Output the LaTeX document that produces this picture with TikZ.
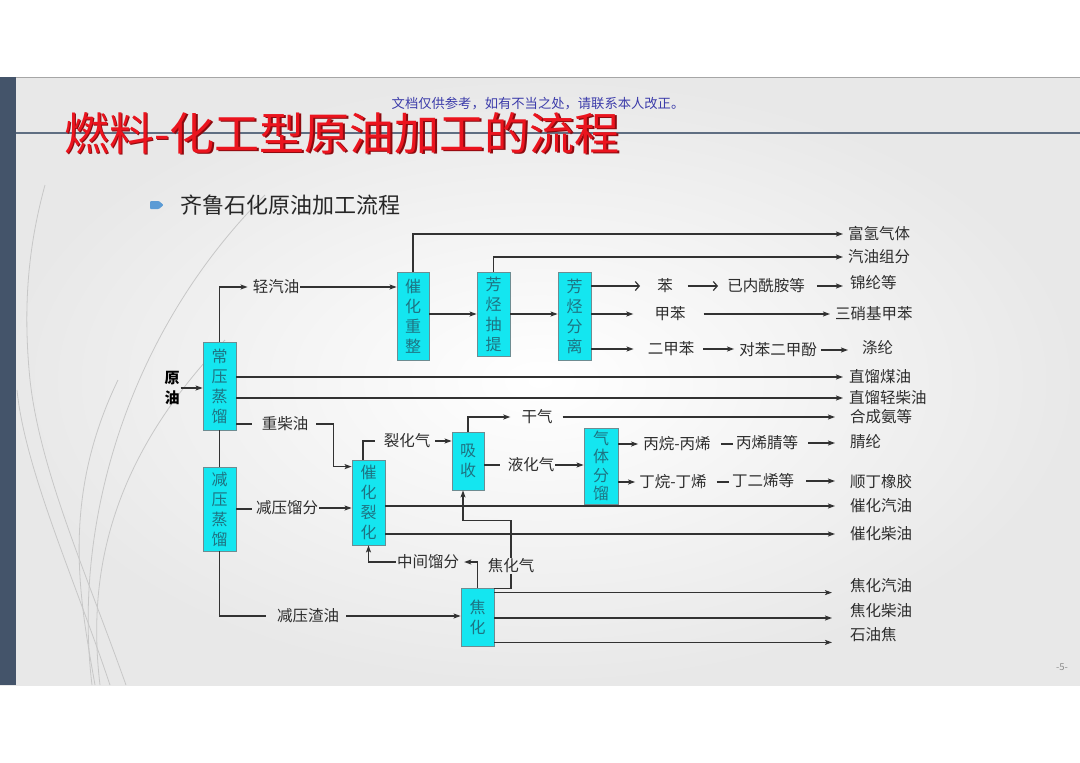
\documentclass[tikz,border=0pt]{standalone}
\usepackage{fontspec}
\setmainfont{Noto Sans CJK SC}
\usetikzlibrary{arrows.meta}
\definecolor{boxfill}{RGB}{20,230,240}
\definecolor{boxline}{RGB}{110,140,145}
\definecolor{boxtext}{RGB}{30,115,130}
\definecolor{linec}{RGB}{50,50,50}
\definecolor{labtext}{RGB}{45,45,45}
\definecolor{titlered}{RGB}{235,20,30}
\definecolor{titledark}{RGB}{140,10,15}
\definecolor{wmblue}{RGB}{60,60,170}
\definecolor{barblue}{RGB}{68,84,106}
\definecolor{rulecol}{RGB}{95,110,130}
\definecolor{bulletblue}{RGB}{91,155,213}
\newcommand{\labfont}{\fontsize{15.5}{18}\selectfont}
\newcommand{\boxfont}{\fontsize{16}{20}\selectfont}
\tikzset{
  box/.style={draw=boxline, fill=boxfill, line width=0.8pt, minimum width=33pt, inner sep=0pt, align=center, font=\boxfont, text=boxtext},
  lab/.style={font=\labfont, text=labtext, inner sep=1pt},
  outl/.style={lab, anchor=west},
  ln/.style={draw=linec, line width=1.2pt},
  arr/.style={ln, -{Stealth[length=7pt,width=5pt,inset=1.5pt]}},
  oarr/.style={ln, -{Straight Barb[length=4pt,width=9pt]}},
  deco/.style={draw=black!22, line width=0.8pt},
}
\begin{document}
\begin{tikzpicture}[x=1pt,y=-1pt]
\useasboundingbox (0,0) rectangle (1080,763);
\fill[white] (0,0) rectangle (1080,763);
% slide background
\shade[inner color=white, outer color=black!9] (0,77) rectangle (1080,685);
\draw[black!35, line width=1pt] (0,77) -- (1080,77);
\fill[barblue] (0,77) rectangle (16,685);
% decorative curves
\draw[deco] (92,685) .. controls (72,520) and (130,330) .. (265,195);
\draw[deco] (100,685) .. controls (85,560) and (120,450) .. (225,340);
\draw[deco] (110,685) .. controls (75,580) and (25,470) .. (17,390);
\draw[deco] (126,685) .. controls (85,570) and (40,470) .. (30,380);
\draw[deco] (30,380) .. controls (22,300) and (30,240) .. (45,185);
\draw[deco] (95,685) .. controls (80,600) and (60,500) .. (118,380);
% title rule and title
\draw[rulecol, line width=2pt] (16,133) -- (1080,133);
\node[font=\fontsize{45}{50}\selectfont, text=titledark, inner sep=0pt] (titlesh) at (343.2,134.2) {燃料-化工型原油加工的流程};
\node[font=\fontsize{45}{50}\selectfont, text=titlered, inner sep=0pt] (title) at (342,133) {燃料-化工型原油加工的流程};
\node[font=\fontsize{13.3}{15}\selectfont, text=wmblue, inner sep=0pt] (wm) at (538,104) {文档仅供参考，如有不当之处，请联系本人改正。};
\fill[bulletblue, rounded corners=1pt] (150,201) -- (159,201) -- (163.5,205) -- (159,209) -- (150,209) -- cycle;
\node[font=\fontsize{22}{26}\selectfont, text=black!85, inner sep=0pt] (sub) at (290,205) {齐鲁石化原油加工流程};
\node[font=\fontsize{9.5}{11}\selectfont, text=black!45, inner sep=0pt] (pn) at (1062,667) {-5-};

% boxes
\node[box, minimum height=88pt] (cy) at (219.5,386) {常\\压\\蒸\\馏};
\node[box, minimum height=84pt] (jy) at (219.5,509) {减\\压\\蒸\\馏};
\node[box, minimum width=32pt, minimum height=88pt] (cz) at (413,316) {催\\化\\重\\整};
\node[box, minimum height=84pt] (fc) at (493.5,314) {芳\\烃\\抽\\提};
\node[box, minimum height=88pt] (ff) at (574.5,316) {芳\\烃\\分\\离};
\node[box, minimum height=85pt] (cl) at (368.5,502.5) {催\\化\\裂\\化};
\node[box, minimum width=32pt, minimum height=58pt] (xs) at (468,461) {吸\\收};
\node[box, minimum width=34pt, minimum height=76pt, font=\fontsize{16}{18.5}\selectfont] (qt) at (601,466) {气\\体\\分\\馏};
\node[box, minimum height=58pt] (jh) at (477.5,617) {焦\\化};

% labels
\node[lab, align=center, text=black, font=\fontsize{15}{20}\selectfont\bfseries] (yy) at (172,388) {原\\油};
\node[lab] (qqy) at (276,287) {轻汽油};
\node[lab] (zcy) at (285,424) {重柴油};
\node[lab] (jyf) at (287,508) {减压馏分};
\node[lab] (jyzy) at (308,616) {减压渣油};
\node[lab] (lhq) at (407,441) {裂化气};
\node[lab] (gq) at (537,417) {干气};
\node[lab] (yhq) at (531,465) {液化气};
\node[lab] (bw) at (677,444) {丙烷-丙烯};
\node[lab] (dw) at (673,482) {丁烷-丁烯};
\node[lab] (bxj) at (767,443) {丙烯腈等};
\node[lab] (ded) at (763,481) {丁二烯等};
\node[lab] (zjf) at (428,562) {中间馏分};
\node[lab] (jhq) at (511,566) {焦化气};
\node[lab] (ben) at (665,286) {苯};
\node[lab] (jnx) at (766,286) {已内酰胺等};
\node[lab] (jb) at (670,314) {甲苯};
\node[lab] (ejb) at (671,349) {二甲苯};
\node[lab] (dbe) at (778,350) {对苯二甲酚};

% outputs
\node[outl] (fq) at (847,234) {富氢气体};
\node[outl] (qyzf) at (847,257) {汽油组分};
\node[outl] (jl) at (849,283) {锦纶等};
\node[outl] (sx) at (834,314) {三硝基甲苯};
\node[outl] (dl) at (861,348) {涤纶};
\node[outl] (zm) at (848,377) {直馏煤油};
\node[outl] (zq) at (848,398) {直馏轻柴油};
\node[outl] (hc) at (849,417) {合成氨等};
\node[outl] (jl2) at (849,442) {腈纶};
\node[outl] (sd) at (849,482) {顺丁橡胶};
\node[outl] (cq) at (849,506) {催化汽油};
\node[outl] (cc) at (849,534) {催化柴油};
\node[outl] (jq) at (849,586) {焦化汽油};
\node[outl] (jc) at (849,611) {焦化柴油};
\node[outl] (syj) at (849,635) {石油焦};

% connectors
\draw[arr] (yy.east) -- (yy.east -| cy.west);
\draw[arr, shorten >=4pt] (cy.north) |- (qqy.west);
\draw[arr] (qqy.east) -- (qqy.east -| cz.west);
\draw[arr, shorten >=4pt] (cz.north) |- (fq.west);
\draw[arr, shorten >=4pt] (fc.north) |- (qyzf.west);
\draw[arr] (cz.east |- fc.west) -- (fc.west);
\draw[arr] (fc.east) -- (fc.east -| ff.west);
\draw[oarr, shorten >=16pt] (ff.east |- ben.west) -- (ben.west);
\draw[oarr, shorten <=14pt, shorten >=8pt] (ben.east) -- (jnx.west);
\draw[arr, shorten <=11pt, shorten >=6pt] (jnx.east) -- (jnx.east -| jl.west);
\draw[arr, shorten >=20pt] (ff.east |- jb.west) -- (jb.west);
\draw[arr, shorten <=17pt, shorten >=4pt] (jb.east) -- (jb.east -| sx.west);
\draw[arr, shorten >=13pt] (ff.east |- ejb.west) -- (ejb.west);
\draw[arr, shorten <=8pt, shorten >=4pt] (ejb.east) -- (ejb.east -| dbe.west);
\draw[arr, shorten <=3pt, shorten >=13pt] (dbe.east) -- (dbe.east -| dl.west);
\draw[arr, shorten >=5pt] (cy.east |- zm.west) -- (zm.west);
\draw[arr, shorten >=5pt] (cy.east |- zq.west) -- (zq.west);
\draw[ln, shorten >=9pt] (cy.east |- zcy.west) -- (zcy.west);
\draw[arr, shorten <=7pt] (zcy.east) -- ++(24pt,0) |- ([yshift=-7pt]cl.north west);
\draw[ln] (cy.south) -- (jy.north);
\draw[ln, shorten >=3pt] (jy.east) -- (jy.east -| jyf.west);
\draw[arr] (jyf.east) -- (jyf.east -| cl.west);
\draw[ln, shorten >=10pt] (jy.south) |- (jyzy.west);
\draw[arr, shorten <=6pt] (jyzy.east) -- (jyzy.east -| jh.west);
\draw[ln, shorten >=8pt] ([xshift=-5.5pt]cl.north) |- (lhq.west);
\draw[arr, shorten <=4pt] (lhq.east) -- (lhq.east -| xs.west);
\draw[arr, shorten >=10pt] (xs.north) |- (gq.west);
\draw[arr, shorten <=9pt, shorten >=14pt] (gq.east) -- (gq.east -| hc.west);
\draw[ln, shorten >=7pt] (xs.east |- yhq.west) -- (yhq.west);
\draw[arr] (yhq.east) -- (yhq.east -| qt.west);
\draw[arr, shorten >=4pt] (qt.east |- bw.west) -- (bw.west);
\draw[ln, shorten <=9pt, shorten >=2pt] (bw.east) -- (bw.east -| bxj.west);
\draw[arr, shorten <=9pt, shorten >=14pt] (bxj.east) -- (bxj.east -| jl2.west);
\draw[arr, shorten >=3pt] (qt.east |- dw.west) -- (dw.west);
\draw[ln, shorten <=9pt, shorten >=2pt] (dw.east) -- (dw.east -| ded.west);
\draw[arr, shorten <=11pt, shorten >=14pt] (ded.east) -- (ded.east -| sd.west);
\draw[arr, shorten >=14pt] (cl.east |- cq.west) -- (cq.west);
\draw[arr, shorten >=14pt] (cl.east |- cc.west) -- (cc.west);
\draw[arr, shorten >=4pt] (jh.north) |- (zjf.east);
\draw[arr] (zjf.west) -| (cl.south);
\draw[ln] ([yshift=-1pt]jh.north east) -| (jhq.south);
\draw[arr] (jhq.north) |- ([xshift=-5pt,yshift=-30pt]xs.south) -- ([xshift=-5pt]xs.south);
\draw[arr, shorten >=17pt] ([yshift=-5pt]jh.north east) -- ([yshift=-5pt]jh.north east -| jq.west);
\draw[arr, shorten >=17pt] ([yshift=-1pt]jh.east) -- ([yshift=-1pt]jh.east -| jc.west);
\draw[arr, shorten >=17pt] ([yshift=4pt]jh.south east) -- ([yshift=4pt]jh.south east -| syj.west);
\end{tikzpicture}
\end{document}
